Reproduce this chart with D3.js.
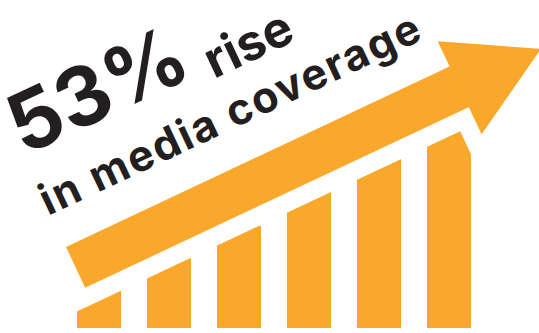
<!DOCTYPE html>
<html>
<head>
<meta charset="utf-8">
<script src="https://cdn.jsdelivr.net/npm/d3@7"></script>
<style>
  html, body { margin: 0; padding: 0; background: #fff; }
  svg { display: block; }
</style>
</head>
<body>
<div id="chart-area"></div>
<script>
const WIDTH = 539
const HEIGHT = 333
const ORANGE = "#f9a82b"
const INK = "#231f20"

// bar data: visible height at the right edge of each bar
var periods = ["p1", "p2", "p3", "p4", "p5", "p6"]
var coverage = [37, 70, 102, 136, 169, 205]
var headline = ["53% rise", "in media coverage"]

var svg = d3.select("#chart-area").append("svg")
    .attr("width", WIDTH)
    .attr("height", HEIGHT)

var xScale = d3.scaleBand()
    .domain(periods)
    .range([77, 471])
    .paddingInner(0.371)
    .paddingOuter(0)

var yScale = d3.scaleLinear()
    .domain([0, 200])
    .range([328, 128])

// arrow frame: origin at the tail's top corner, rotated to the arrow's slope
const ANGLE = -25.2
var frame = "translate(66,247) rotate(" + ANGLE + ")"

// bars are cut by a line running parallel under the arrow shaft
svg.append("clipPath")
    .attr("id", "under-arrow")
  .append("rect")
    .attr("transform", frame)
    .attr("x", -600)
    .attr("y", 63)
    .attr("width", 1006)
    .attr("height", 600)

svg.append("g")
    .attr("clip-path", "url(#under-arrow)")
  .selectAll("rect")
  .data(coverage)
  .enter()
  .append("rect")
    .attr("x", function(d, i){ return xScale(periods[i]) })
    .attr("y", function(d){ return yScale(d) })
    .attr("width", xScale.bandwidth())
    .attr("height", function(d){ return yScale(0) - yScale(d) })
    .attr("fill", ORANGE)

// the arrow
var arrow = svg.append("g").attr("transform", frame)
arrow.append("rect")
    .attr("x", 0)
    .attr("y", 0)
    .attr("width", 425)
    .attr("height", 45)
    .attr("fill", ORANGE)
arrow.append("path")
    .attr("d", "M424,-28 L514,23 L424,75 Z")
    .attr("fill", ORANGE)

// headline text
function label(x, y, size, spacing, str){
    svg.append("text")
        .attr("transform", "translate(" + x + "," + y + ") rotate(" + ANGLE + ")")
        .attr("font-family", "Inter")
        .attr("font-weight", 700)
        .attr("font-size", size + "px")
        .attr("letter-spacing", spacing)
        .attr("fill", INK)
        .text(str)
}
var big = headline[0].split(" ")
label(24, 156, 82, 0, big[0])
label(214, 79, 50, 0, big[1])
label(48, 216, 43, 2, headline[1])
</script>
</body>
</html>
